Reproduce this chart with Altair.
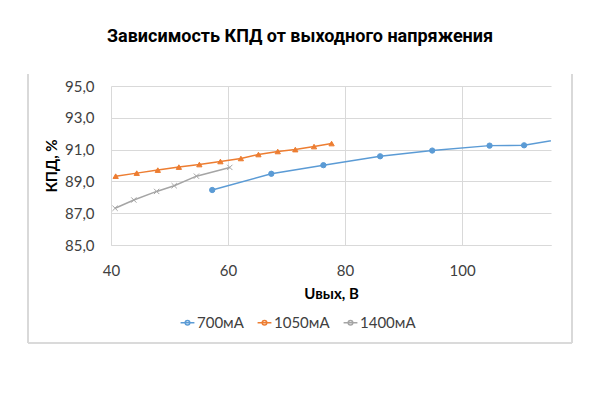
import altair as alt
import pandas as pd

# Data
series_names = ["700мА", "1050мА", "1400мА"]
colors = ["#5B9BD5", "#ED7D31", "#A5A5A5"]

u_700 = [57.3, 67.4, 76.3, 86.0, 94.9, 104.7, 110.6, 120.0]
eff_700 = [88.46, 89.48, 90.02, 90.58, 90.94, 91.25, 91.27, 91.85]

u_1050 = [40.8, 44.4, 48.0, 51.6, 55.1, 58.7, 62.2, 65.2, 68.5, 71.5, 74.7, 77.7]
eff_1050 = [89.33, 89.52, 89.71, 89.90, 90.06, 90.25, 90.44, 90.69, 90.88, 91.00, 91.19, 91.38]

u_1400 = [40.7, 43.9, 47.8, 50.8, 54.6, 60.3]
eff_1400 = [87.31, 87.83, 88.37, 88.73, 89.33, 89.88]

x_ticks = [40, 60, 80, 100]
y_ticks = [85, 87, 89, 91, 93, 95]

rows = []
for name, us, es in [(series_names[0], u_700, eff_700),
                     (series_names[1], u_1050, eff_1050),
                     (series_names[2], u_1400, eff_1400)]:
    for i, (u, e) in enumerate(zip(us, es)):
        rows.append({"series": name, "marker": name, "u": u, "eff": e, "order": i})
df = pd.DataFrame(rows)

FONT = "Lato"
GRID = "#D9D9D9"
LABEL = "#404040"

color_scale = alt.Scale(domain=series_names, range=colors)
x_axis = alt.Axis(values=x_ticks, title="Uвых, В", labelPadding=18,
                  titlePadding=8, grid=True, ticks=False, tickSize=0,
                  labelOverlap=False, labelFlush=False, domainColor=GRID, gridColor=GRID)
y_axis = alt.Axis(values=y_ticks, title="КПД, %", labelPadding=17,
                  titlePadding=5, grid=True, ticks=False, tickSize=0,
                  labelOverlap=False, labelFlush=False, domain=False, gridColor=GRID,
                  labelExpr="replace(format(datum.value, '.1f'), '.', ',')")
x_scale = alt.Scale(domain=[40, 115.2], nice=False, zero=False)
y_scale = alt.Scale(domain=[85, 95], nice=False, zero=False)

legend_path = "M-1.5,0L1.5,0M-0.5,0A0.5,0.5,0,1,1,0.5,0A0.5,0.5,0,1,1,-0.5,0"

lines = alt.Chart(df).mark_line(strokeWidth=1.5, clip=True).encode(
    x=alt.X("u:Q", scale=x_scale, axis=x_axis),
    y=alt.Y("eff:Q", scale=y_scale, axis=y_axis),
    color=alt.Color("series:N", scale=color_scale, sort=series_names,
                    legend=alt.Legend(title=None, orient="none", direction="horizontal",
                                      legendX=69, legendY=229, symbolType=legend_path,
                                      symbolSize=85, symbolStrokeWidth=1.5,
                                      labelFont=FONT, labelFontSize=15,
                                      labelColor=LABEL, labelOffset=2,
                                      columnPadding=10)),
    order="order:Q",
)

marker_scale = alt.Scale(domain=series_names, range=colors)
points = alt.Chart(df).mark_point(filled=True, size=28, strokeWidth=1, opacity=1, clip=True).encode(
    x=alt.X("u:Q", scale=x_scale, axis=x_axis),
    y=alt.Y("eff:Q", scale=y_scale, axis=y_axis),
    fill=alt.Fill("marker:N", scale=marker_scale, legend=None),
    stroke=alt.Stroke("marker:N", scale=marker_scale, legend=None),
    shape=alt.Shape("marker:N", scale=alt.Scale(domain=series_names,
                                                 range=["circle", "triangle-up",
                                                        "M-1,-1L1,1M-1,1L1,-1"]),
                    legend=None),
)

frame_left = alt.Chart(df).mark_rule(color=GRID, strokeWidth=1.2).encode(
    x=alt.value(-83), y=alt.value(-12), y2=alt.value(257))
frame_right = alt.Chart(df).mark_rule(color=GRID, strokeWidth=1.2).encode(
    x=alt.value(461), y=alt.value(-12), y2=alt.value(257))
frame_bottom = alt.Chart(df).mark_rule(color=GRID, strokeWidth=1.2).encode(
    x=alt.value(-83), x2=alt.value(461), y=alt.value(257))

chart = alt.layer(lines, points, frame_left, frame_right, frame_bottom).resolve_scale(
    fill="independent", stroke="independent", shape="independent", color="independent"
).properties(
    width=440, height=159,
    autosize=alt.AutoSizeParams(type="none"),
    padding={"left": 103, "top": 78, "right": 33, "bottom": 130},
    title=alt.TitleParams("Зависимость КПД от выходного напряжения", font="Roboto",
                          fontSize=18, fontWeight="bold", color="#000000",
                          anchor="middle", dx=-31, offset=27),
).configure_view(stroke=None).configure_axis(
    labelFont=FONT, labelFontSize=15, labelColor=LABEL,
    titleFont=FONT, titleFontSize=15, titleFontWeight="bold", titleColor="#000000",
)

chart.save("out.html", embed_options={"renderer": "svg", "actions": False})
